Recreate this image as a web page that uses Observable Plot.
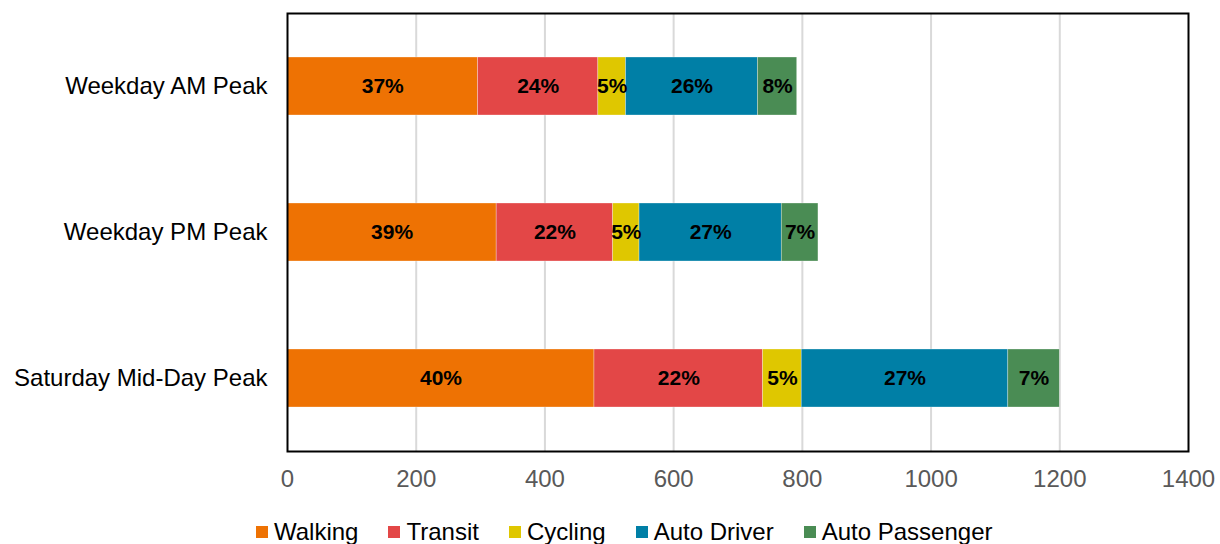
<!DOCTYPE html>
<html>
<head>
<meta charset="utf-8">
<script src="https://cdn.jsdelivr.net/npm/d3@7"></script>
<script src="https://cdn.jsdelivr.net/npm/@observablehq/plot@0.6"></script>
<style>
  html, body { margin: 0; padding: 0; background: #fff; }
  body { width: 1220px; height: 544px; overflow: hidden; font-family: "Liberation Sans", Arial, sans-serif; }
  #legend { display: flex; align-items: center; padding-left: 256px; padding-top: 7px; height: 39px; font-size: 24px; color: #000; }
  #legend .item { display: flex; align-items: center; margin-right: 30px; }
  #legend .sw { width: 12px; height: 12px; margin-right: 6px; }
</style>
</head>
<body>
<div id="chart"></div>
<div id="legend"></div>
<script>
const categories = ["Weekday AM Peak", "Weekday PM Peak", "Saturday Mid-Day Peak"];
const modes = ["Walking", "Transit", "Cycling", "Auto Driver", "Auto Passenger"];
const colors = ["#ee7203", "#e34747", "#dfc700", "#007fa6", "#4a8c54"];
const walking = [296, 325, 477];
const transit = [187, 181, 262];
const cycling = [43, 41, 60];
const autoDriver = [205, 221, 321];
const autoPassenger = [61, 57, 80];
const xTicks = [0, 200, 400, 600, 800, 1000, 1200, 1400];
const gridTicks = [200, 400, 600, 800, 1000, 1200];

const series = [walking, transit, cycling, autoDriver, autoPassenger];
const totals = categories.map((c, i) => series.reduce((s, arr) => s + arr[i], 0));
const data = [];
categories.forEach((cat, i) => {
  modes.forEach((m, j) => {
    const v = series[j][i];
    data.push({cat, mode: m, value: v, pct: Math.round(v / totals[i] * 100) + "%"});
  });
});

const chart = Plot.plot({
  width: 1220,
  height: 505,
  marginLeft: 287,
  marginRight: 32,
  marginTop: 13,
  marginBottom: 54,
  style: {fontFamily: "'Liberation Sans', Arial, sans-serif", background: "#fff"},
  x: {domain: [0, 1400], ticks: xTicks, tickSize: 0, tickPadding: 18, label: null},
  y: {domain: categories, paddingInner: 0.6, paddingOuter: 0.3, tickSize: 0, tickPadding: 20, label: null},
  color: {domain: modes, range: colors},
  marks: [
    Plot.ruleX(gridTicks, {stroke: "#d9d9d9", strokeWidth: 2}),
    Plot.barX(data, Plot.stackX({x: "value", y: "cat", fill: "mode", order: modes, stroke: "#ffffff", strokeWidth: 0.6, strokeOpacity: 0.5})),
    Plot.text(data, Plot.stackX({x: "value", y: "cat", z: "mode", order: modes, text: "pct", fill: "#000", fontSize: 21, fontWeight: "bold"})),
    Plot.axisX({ticks: xTicks, tickFormat: d => String(d), tickSize: 0, tickPadding: 18, fontSize: 24, fill: "#595959"}),
    Plot.axisY({tickSize: 0, tickPadding: 20, fontSize: 24, fill: "#000"}),
    Plot.frame({stroke: "#000", strokeWidth: 2})
  ]
});
document.getElementById("chart").appendChild(chart);

const legend = document.getElementById("legend");
modes.forEach((m, j) => {
  const item = document.createElement("div");
  item.className = "item";
  const sw = document.createElement("div");
  sw.className = "sw";
  sw.style.background = colors[j];
  const t = document.createElement("span");
  t.textContent = m;
  item.appendChild(sw);
  item.appendChild(t);
  legend.appendChild(item);
});
</script>
</body>
</html>
